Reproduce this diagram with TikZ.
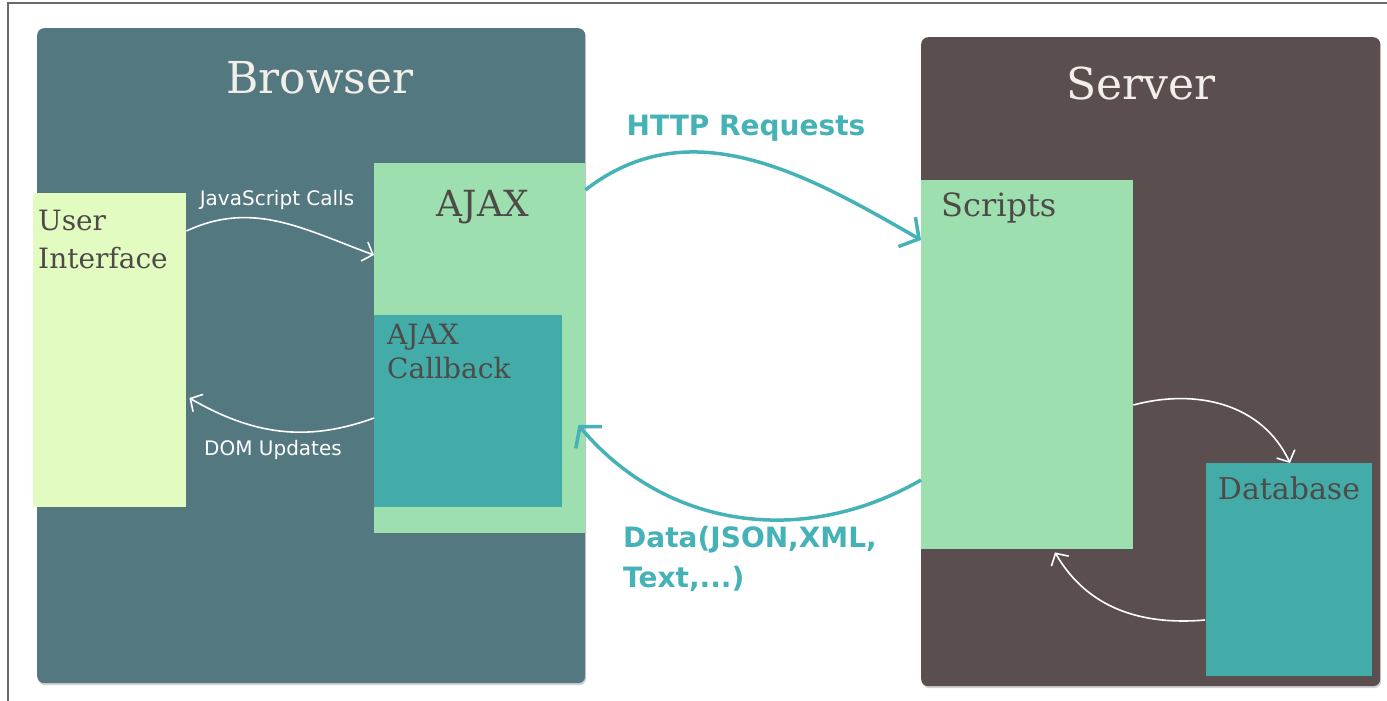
\documentclass[tikz,border=0pt]{standalone}
\usepackage{fontspec}
\setmainfont{DejaVu Serif}
\setsansfont{DejaVu Sans}
\usepackage{xcolor}
\usetikzlibrary{shapes,arrows.meta,positioning,calc,shadows}

\definecolor{browsercol}{HTML}{547880}
\definecolor{servercol}{HTML}{5A4F4E}
\definecolor{greencol}{HTML}{9DDFAE}
\definecolor{lightcol}{HTML}{E2FBC1}
\definecolor{tealcol}{HTML}{43ACA8}
\definecolor{netcol}{HTML}{45B2B7}
\definecolor{titlecol}{HTML}{F2EEE8}
\definecolor{labelcol}{HTML}{4D4A48}
\definecolor{framecol}{HTML}{6A6A6A}

\begin{document}
\begin{tikzpicture}[x=1pt,y=-1pt,
  box/.style={rectangle, inner sep=0pt, anchor=north west},
  panel/.style={box, rounded corners=7pt,
    drop shadow={opacity=0.35, shadow xshift=1pt, shadow yshift=-2pt}},
  title/.style={font=\fontsize{44}{48}\selectfont, text=titlecol, inner sep=0pt},
  lbl/.style={font=\fontsize{28}{36}\selectfont, text=labelcol, align=left, inner sep=0pt},
  note/.style={font=\sffamily\fontsize{20}{24}\selectfont, text=white, inner sep=0pt},
  netnote/.style={font=\sffamily\bfseries\fontsize{28}{40}\selectfont, text=netcol, align=left, inner sep=0pt},
  flow/.style={white, line width=1.6pt, -{Straight Barb[length=9pt,width=20pt]}},
  net/.style={netcol, line width=3.5pt, -{Straight Barb[length=14pt,width=34pt]}}]

\useasboundingbox (0,0) rectangle (1387,701);
\fill[white] (0,0) rectangle (1387,701);

% Frame
\draw[framecol, line width=2pt] (1387,3) -- (8,3) -- (8,701);

% Browser
\node[panel, fill=browsercol, minimum width=548, minimum height=655] (browser) at (37,28) {};
\node[title] (browsertitle) at (320,78) {Browser};
\node[box, fill=lightcol, minimum width=153, minimum height=314] (ui) at (33,193) {};
\node[lbl, anchor=base west, font=\fontsize{28}{38}\selectfont] (uitext) at (38,268) {User\\Interface};
\node[box, fill=greencol, minimum width=211, minimum height=370] (ajax) at (374,163) {};
\node[lbl, font=\fontsize{36}{40}\selectfont] (ajaxtext) at (483,207) {AJAX};
\node[box, fill=tealcol, minimum width=188, minimum height=192] (callback) at (374,315) {};
\node[lbl, anchor=base west, font=\fontsize{28}{34}\selectfont] (callbacktext) at (387,378) {AJAX\\Callback};

% Server
\node[panel, fill=servercol, minimum width=459, minimum height=649] (server) at (921,37) {};
\node[title] (servertitle) at (1141,83) {Server};
\node[box, fill=greencol, minimum width=212, minimum height=369] (scripts) at (921,180) {};
\node[lbl, font=\fontsize{32}{36}\selectfont, anchor=west] (scriptstext) at (941,208) {Scripts};
\node[box, fill=tealcol, minimum width=166, minimum height=213] (db) at (1206,463) {};
\node[lbl, font=\fontsize{30}{36}\selectfont] (dbtext) at (1289,488) {Database};

% Browser calls
\draw[flow] ($(ui.north east)+(0,38)$) to[out=25, in=160] ($(ajax.north west)+(0,92)$);
\node[note] (jscalls) at (277,200) {JavaScript Calls};
\draw[flow] ($(ajax.north west)+(0,255)$) to[out=200, in=-30] ($(ui.north east)+(3,205)$);
\node[note] (domupdates) at (273,450) {DOM Updates};

% Network
\draw[net] ($(ajax.north east)+(0,27)$) to[out=38, in=150] ($(scripts.north west)+(0,60)$);
\node[netnote] (http) at (746,128) {HTTP Requests};
\draw[net] ($(scripts.north west)+(0,300)$) to[out=210, in=-50] ($(ajax.north east)+(-7,262)$);
\node[netnote, anchor=base west] (data) at (623,587) {Data(JSON,XML,\\Text,...)};

% Server calls
\draw[flow] ($(scripts.north east)+(0,225)$) to[out=15, in=115] ($(db.north west)+(84,0)$);
\draw[flow] ($(db.north west)+(-1,157)$) to[out=185, in=-60] ($(scripts.south west)+(134,3)$);
\end{tikzpicture}
\end{document}
